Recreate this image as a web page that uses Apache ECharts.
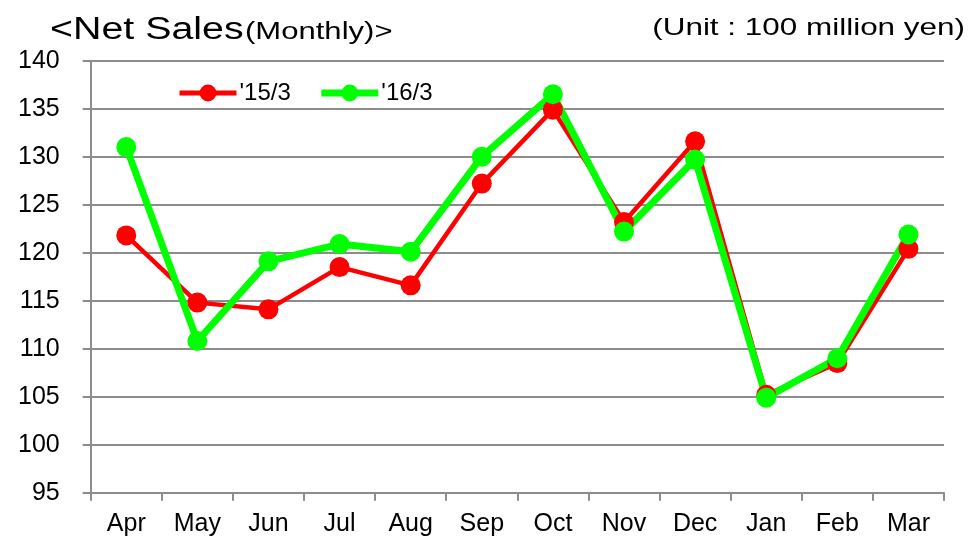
<!DOCTYPE html>
<html><head><meta charset="utf-8">
<script src="https://cdn.jsdelivr.net/npm/echarts@6/dist/echarts.min.js"></script>
<style>html,body{margin:0;padding:0;background:#fff}#c{width:978px;height:540px}</style>
</head><body><div id="c"></div>
<script>
const months = ['Apr','May','Jun','Jul','Aug','Sep','Oct','Nov','Dec','Jan','Feb','Mar'];
const fy15 = [121.8,114.8,114.1,118.5,116.6,127.2,134.9,123.2,131.6,105.2,108.5,120.4];
const fy16 = [131.0,110.8,119.1,120.9,120.1,130.0,136.5,122.2,129.7,104.9,109.0,121.9];
const seriesNames = ["'15/3","'16/3"];
const yTicks = {min:95, max:140, interval:5};
const titleMain = '<Net Sales';
const titleSub = '(Monthly)>';
const unitText = '(Unit : 100 million yen)';
const FONT = '"Liberation Sans", Arial, sans-serif';
const chart = echarts.init(document.getElementById('c'));
chart.setOption({
  animation:false,
  textStyle:{fontFamily:FONT},
  graphic:[
    {type:'text', x:50, y:30, scaleX:1.27, scaleY:1,
     style:{text:titleMain, fontSize:31, fontFamily:FONT, fill:'#000', align:'left', verticalAlign:'middle'}},
    {type:'text', x:245, y:33, scaleX:1.35, scaleY:1,
     style:{text:titleSub, fontSize:23, fontFamily:FONT, fill:'#000', align:'left', verticalAlign:'middle'}},
    {type:'text', x:965, y:28, scaleX:1.31, scaleY:1,
     style:{text:unitText, fontSize:24, fontFamily:FONT, fill:'#000', align:'right', verticalAlign:'middle'}}
  ],
  legend:{
    left:172, top:76, itemWidth:57, itemHeight:21, itemGap:27,
    textStyle:{fontSize:24,color:'#000',fontFamily:FONT,padding:[0,0,0,-2]},
    data:[
      {name:seriesNames[0], lineStyle:{width:5}},
      {name:seriesNames[1], lineStyle:{width:7}}
    ]
  },
  grid:{left:90.7, right:34, top:60.7, bottom:47.3},
  xAxis:{
    type:'category', data:months, boundaryGap:true,
    axisLine:{lineStyle:{color:'#8c8c8c',width:2}},
    axisTick:{show:true,length:8,lineStyle:{color:'#8c8c8c',width:2},alignWithLabel:false},
    axisLabel:{fontSize:25,color:'#000',margin:19,fontFamily:FONT,interval:0},
    splitLine:{show:false}
  },
  yAxis:{
    type:'value', min:yTicks.min, max:yTicks.max, interval:yTicks.interval,
    axisLine:{show:true,lineStyle:{color:'#8c8c8c',width:2}},
    axisTick:{show:true,length:8,lineStyle:{color:'#8c8c8c',width:2}},
    axisLabel:{fontSize:25,color:'#000',margin:31,fontFamily:FONT},
    splitLine:{show:true,lineStyle:{color:'#8c8c8c',width:2}}
  },
  series:[{
    name:seriesNames[0], type:'line', data:fy15,
    symbol:'circle', symbolSize:20,
    lineStyle:{color:'#ff0000',width:4.5},
    itemStyle:{color:'#ff0000'}
  },{
    name:seriesNames[1], type:'line', data:fy16,
    symbol:'circle', symbolSize:20,
    lineStyle:{color:'#00ff00',width:7},
    itemStyle:{color:'#00ff00'}
  }]
});
</script></body></html>
